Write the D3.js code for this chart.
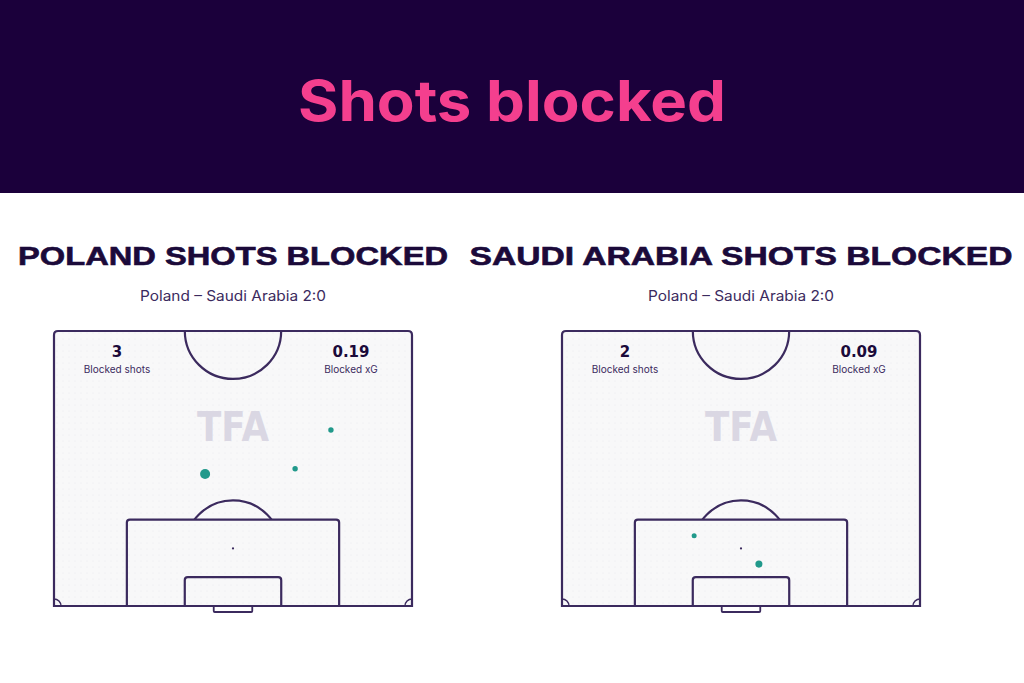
<!DOCTYPE html>
<html><head><meta charset="utf-8">
<script src="https://cdn.jsdelivr.net/npm/d3@7"></script>
<style>html,body{margin:0;padding:0;background:#fff;}svg{display:block;}</style>
</head><body>
<script>
// ---- data ----
const mainTitle = "Shots blocked";
const matchLabel = "Poland – Saudi Arabia 2:0";
const teams = ["POLAND", "SAUDI ARABIA"];
const blockedShots = [3, 2];
const blockedXG = ["0.19", "0.09"];
// shot locations: x across pitch width (m, 0..68), y distance from goal line (m)
const polandShotX = [28.7, 45.8, 52.6];
const polandShotY = [25.2, 26.2, 33.6];
const polandShotXG = [0.12, 0.035, 0.035];
const saudiShotX = [25.1, 37.4];
const saudiShotY = [13.4, 8.0];
const saudiShotXG = [0.03, 0.06];

const shotsByTeam = [
  polandShotX.map((x, i) => ({x, y: polandShotY[i], xg: polandShotXG[i]})),
  saudiShotX.map((x, i) => ({x, y: saudiShotY[i], xg: saudiShotXG[i]}))
];

const W = 1024, H = 683;
const svg = d3.select("body").append("svg").attr("width", W).attr("height", H);

const defs = svg.append("defs");
const pat = defs.append("pattern").attr("id", "dots").attr("width", 6).attr("height", 6)
  .attr("patternUnits", "userSpaceOnUse");
pat.append("rect").attr("width", 6).attr("height", 6).attr("fill", "#f8f8f9");
pat.append("circle").attr("cx", 3).attr("cy", 3).attr("r", 0.5).attr("fill", "#e9e9ed");

// header
svg.append("rect").attr("x", 0).attr("y", 0).attr("width", W).attr("height", 193).attr("fill", "#1b003b");
svg.append("text").attr("x", 512).attr("y", 121).attr("text-anchor", "middle")
  .attr("font-family", "Inter, 'DejaVu Sans', sans-serif").attr("font-weight", 700)
  .attr("font-size", 56).attr("fill", "#f43f8e")
  .attr("textLength", 428).attr("lengthAdjust", "spacingAndGlyphs")
  .text(mainTitle);

const lineCol = "#3b2a5e";
const offsets = [0, 508];
const titleLens = [430, 543];

teams.forEach((team, ti) => {
  const ox = offsets[ti];
  const x = d3.scaleLinear().domain([0, 68]).range([54 + ox, 412 + ox]);
  const y = d3.scaleLinear().domain([0, 52.5]).range([606, 331]);
  const kx = (x(1) - x(0)), ky = (y(0) - y(1));
  const cx = x(34);
  const g = svg.append("g");

  // titles
  g.append("text").attr("x", cx).attr("y", 265).attr("text-anchor", "middle")
    .attr("font-family", "'Liberation Sans', Arial, sans-serif").attr("font-weight", 700)
    .attr("font-size", 26).attr("fill", "#1b0a3a")
    .attr("stroke", "#1b0a3a").attr("stroke-width", 0.6)
    .attr("textLength", titleLens[ti]).attr("lengthAdjust", "spacingAndGlyphs")
    .text(team + " SHOTS BLOCKED");
  g.append("text").attr("x", cx).attr("y", 301).attr("text-anchor", "middle")
    .attr("font-family", "Inter, 'Noto Sans', sans-serif")
    .attr("font-size", 14).attr("fill", "#3b2a5e")
    .attr("textLength", 186).attr("lengthAdjust", "spacingAndGlyphs")
    .text(matchLabel);

  // pitch
  const L = x(0), R = x(68), T = y(52.5), B = y(0);
  g.append("path").attr("d",
      `M${L},${B} L${L},${T + 4} Q${L},${T} ${L + 4},${T} L${R - 4},${T} Q${R},${T} ${R},${T + 4} L${R},${B} Z`)
    .attr("fill", "url(#dots)").attr("stroke", lineCol).attr("stroke-width", 2.2);

  const clip = "clip" + ti;
  defs.append("clipPath").attr("id", clip).append("rect")
    .attr("x", L).attr("y", T).attr("width", R - L).attr("height", B - T);

  const lines = g.append("g").attr("fill", "none").attr("stroke", lineCol).attr("stroke-width", 2.2);
  // centre circle
  lines.append("ellipse").attr("cx", cx).attr("cy", T).attr("rx", 9.15 * kx).attr("ry", 9.15 * ky)
    .attr("clip-path", `url(#${clip})`);
  // penalty arc
  const spotY = y(11);
  defs.append("clipPath").attr("id", "arc" + ti).append("rect")
    .attr("x", L).attr("y", T).attr("width", R - L).attr("height", y(16.5) - T);
  lines.append("ellipse").attr("cx", cx).attr("cy", spotY).attr("rx", 9.15 * kx).attr("ry", 9.15 * ky)
    .attr("clip-path", `url(#arc${ti})`);
  // penalty box
  const pb = (x0, x1, yy) => `M${x0},${B} L${x0},${yy + 3} Q${x0},${yy} ${x0 + 3},${yy} L${x1 - 3},${yy} Q${x1},${yy} ${x1},${yy + 3} L${x1},${B}`;
  lines.append("path").attr("d", pb(x(34 - 20.16), x(34 + 20.16), y(16.5)));
  // six-yard box
  lines.append("path").attr("d", pb(x(34 - 9.16), x(34 + 9.16), y(5.5)));
  // goal
  lines.append("path").attr("d",
    `M${x(34 - 3.66)},${B} L${x(34 - 3.66)},${B + 5} Q${x(34 - 3.66)},${B + 6} ${x(34 - 3.66) + 1},${B + 6} L${x(34 + 3.66) - 1},${B + 6} Q${x(34 + 3.66)},${B + 6} ${x(34 + 3.66)},${B + 5} L${x(34 + 3.66)},${B}`)
    .attr("stroke-width", 1.8);
  // corner arcs
  lines.append("path").attr("d", `M${L},${B - 7} A7,7 0 0 1 ${L + 7},${B}`).attr("stroke-width", 1.5);
  lines.append("path").attr("d", `M${R - 7},${B} A7,7 0 0 1 ${R},${B - 7}`).attr("stroke-width", 1.5);
  // penalty spot
  g.append("circle").attr("cx", cx).attr("cy", spotY).attr("r", 1.1).attr("fill", lineCol);

  // watermark
  g.append("text").attr("x", cx).attr("y", 441).attr("text-anchor", "middle")
    .attr("font-family", "'DejaVu Sans', sans-serif").attr("font-weight", 700)
    .attr("font-size", 40).attr("fill", "#dad7e3")
    .attr("textLength", 72).attr("lengthAdjust", "spacingAndGlyphs")
    .text("TFA");

  // stats
  const sx1 = 117 + ox, sx2 = 351 + ox;
  g.append("text").attr("x", sx1).attr("y", 357).attr("text-anchor", "middle")
    .attr("font-family", "'DejaVu Sans', sans-serif").attr("font-weight", 700)
    .attr("font-size", 15).attr("fill", "#1b0a3a").text(blockedShots[ti]);
  g.append("text").attr("x", sx1).attr("y", 373).attr("text-anchor", "middle")
    .attr("font-family", "Inter, 'Noto Sans', sans-serif")
    .attr("font-size", 10).attr("fill", "#3b2a5e").text("Blocked shots");
  g.append("text").attr("x", sx2).attr("y", 357).attr("text-anchor", "middle")
    .attr("font-family", "'DejaVu Sans', sans-serif").attr("font-weight", 700)
    .attr("font-size", 15).attr("fill", "#1b0a3a").text(blockedXG[ti]);
  g.append("text").attr("x", sx2).attr("y", 373).attr("text-anchor", "middle")
    .attr("font-family", "Inter, 'Noto Sans', sans-serif")
    .attr("font-size", 10).attr("fill", "#3b2a5e").text("Blocked xG");

  // shots
  const r = d3.scaleSqrt().domain([0, 0.12]).range([0, 5]);
  g.selectAll("circle.shot").data(shotsByTeam[ti]).join("circle")
    .attr("class", "shot")
    .attr("cx", d => x(d.x)).attr("cy", d => y(d.y)).attr("r", d => r(d.xg))
    .attr("fill", "#21998b");
});
</script>
</body></html>
